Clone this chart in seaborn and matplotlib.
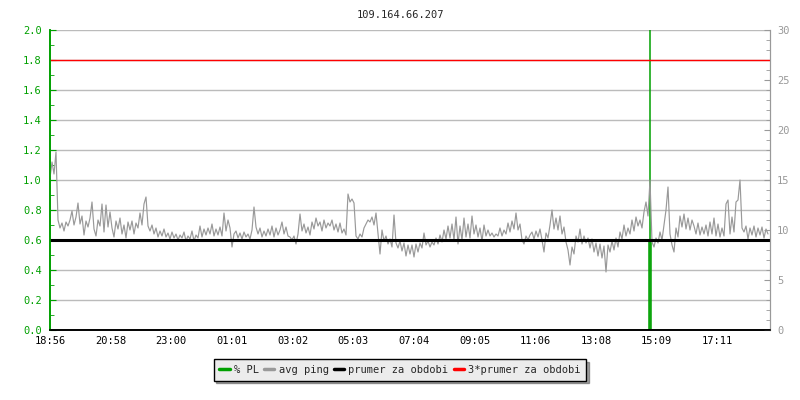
import numpy as np
import pandas as pd
import seaborn as sns
import matplotlib.pyplot as plt
from matplotlib.lines import Line2D

# avg ping (ms), one sample every 4 minutes starting at 18:56
ping_ms = [
    15.2, 16.8, 15.6, 17.8, 11.0, 10.2, 10.7, 9.9, 10.8, 10.4, 11.0, 11.9, 10.5, 11.3, 12.7, 10.6, 11.4, 9.5, 10.9, 10.3,
    11.2, 12.8, 10.1, 9.4, 11.0, 10.4, 12.6, 9.8, 12.5, 10.3, 11.8, 10.2, 9.3, 10.9, 10.1, 11.2, 9.6, 10.5, 9.2, 10.8,
    10.0, 10.9, 9.6, 10.7, 10.2, 11.7, 10.5, 12.6, 13.3, 10.4, 9.9, 10.5, 9.6, 10.2, 9.3, 9.9, 9.4, 10.1, 9.3, 9.7,
    9.1, 9.8, 9.2, 9.6, 9.0, 9.5, 9.2, 9.8, 8.9, 9.4, 9.1, 9.9, 8.9, 9.5, 9.2, 10.4, 9.3, 10.1, 9.5, 10.2,
    9.6, 10.6, 9.4, 10.1, 9.5, 10.3, 9.4, 11.7, 9.9, 11.0, 10.2, 8.3, 9.6, 9.9, 9.2, 9.7, 9.1, 9.8, 9.3, 9.6,
    9.1, 10.0, 12.3, 10.3, 9.6, 10.2, 9.3, 9.9, 9.4, 10.1, 9.5, 10.4, 9.3, 10.2, 9.5, 10.0, 10.8, 9.6, 10.3, 9.4,
    9.3, 9.0, 9.4, 8.6, 9.6, 11.6, 9.9, 10.6, 9.7, 10.3, 9.5, 10.8, 10.1, 11.2, 10.4, 10.8, 9.9, 11.0, 10.2, 10.7,
    10.4, 11.0, 10.0, 10.6, 9.8, 10.7, 9.7, 10.1, 9.5, 13.6, 12.8, 13.1, 12.7, 9.4, 9.1, 9.6, 9.3, 10.2, 10.6, 11.0,
    10.8, 11.3, 10.5, 11.7, 9.6, 7.6, 10.0, 8.9, 9.4, 8.6, 9.1, 8.3, 11.5, 8.7, 8.2, 8.9, 7.9, 8.7, 7.4, 8.5,
    7.6, 8.5, 7.3, 8.6, 7.8, 8.7, 8.2, 9.7, 8.5, 8.9, 8.3, 8.8, 8.5, 9.2, 8.6, 9.5, 8.8, 10.0, 9.1, 10.4,
    9.2, 10.6, 9.0, 11.3, 8.6, 10.4, 9.0, 11.2, 9.3, 10.6, 9.2, 11.4, 9.6, 10.5, 9.3, 10.2, 8.9, 10.5, 9.4, 10.0,
    9.4, 9.7, 9.3, 9.6, 9.4, 10.2, 9.4, 10.0, 9.6, 10.7, 9.8, 10.9, 10.1, 11.7, 10.0, 10.6, 9.0, 8.6, 9.4, 9.0,
    9.5, 9.8, 9.1, 9.9, 9.3, 10.1, 9.0, 7.8, 9.7, 9.2, 10.5, 12.0, 10.1, 11.2, 10.0, 11.4, 9.6, 10.3, 8.8, 8.0,
    6.5, 8.3, 7.6, 9.4, 8.8, 10.1, 8.6, 9.4, 8.7, 9.2, 8.2, 9.1, 7.8, 8.7, 7.4, 8.6, 7.2, 8.4, 5.8, 8.5,
    7.8, 8.9, 8.0, 9.2, 8.3, 9.8, 9.1, 10.5, 9.4, 10.2, 9.6, 11.0, 9.9, 11.3, 10.4, 11.0, 10.2, 11.8, 12.8, 11.4,
    15.0, 8.8, 8.3, 9.2, 8.7, 9.8, 9.0, 10.5, 12.0, 14.3, 9.6, 8.5, 7.8, 10.2, 9.3, 11.4, 10.3, 11.6, 10.1, 11.2,
    10.0, 11.0, 10.4, 9.6, 10.7, 9.5, 10.3, 9.6, 10.5, 9.4, 10.8, 9.6, 11.2, 9.4, 10.6, 9.3, 10.2, 9.4, 12.6, 13.0,
    9.6, 11.3, 9.8, 12.8, 13.0, 15.0, 10.2, 9.8, 10.4, 9.1, 10.2, 9.5, 10.4, 9.3, 10.2, 9.5, 10.3, 9.2, 10.1, 9.6,
]
sample_step_min = 4

# packet loss events (minutes after start, % PL)
pl_minutes = [1198, 1200, 1202]
pl_values = [0.6, 2.0, 0.6]

mean_ping = 9.0
tick_labels = ['18:56', '20:58', '23:00', '01:01', '03:02', '05:03',
               '07:04', '09:05', '11:06', '13:08', '15:09', '17:11']
span_min = 1440
tick_step_min = 1335 / 11

df = pd.DataFrame({'minute': np.arange(len(ping_ms)) * sample_step_min, 'ping': ping_ms})

sns.set_style('white')
plt.rcParams['font.family'] = ['DejaVu Sans Mono']

green = '#00a000'
grey = '#999999'
fs = 7.5

fig = plt.figure(figsize=(8, 4), dpi=100)
ax = fig.add_axes([50 / 800, 70 / 400, 720 / 800, 300 / 400])
ax2 = ax.twinx()

# grid on left scale
ax.set_ylim(0, 2.0)
ax.set_xlim(0, span_min)
ax.set_yticks(np.arange(0, 2.01, 0.2))
ax.set_yticks(np.arange(0, 2.01, 0.1), minor=True)
ax.yaxis.grid(True, color='#bbbbbb', linewidth=1)
ax.set_axisbelow(True)

ax2.set_ylim(0, 30)
ax2.set_yticks(range(0, 31, 5))
ax2.set_yticks(range(0, 31, 1), minor=True)

# packet loss on the left (% PL) scale
ax.vlines(pl_minutes, 0, pl_values, color=green, linewidth=1.1)

sns.lineplot(data=df, x='minute', y='ping', ax=ax2, color=grey, linewidth=0.85, legend=False)
sns.lineplot(x=[0, span_min], y=[mean_ping, mean_ping], ax=ax2, color='black', linewidth=2.2, legend=False)
sns.lineplot(x=[0, span_min], y=[3 * mean_ping, 3 * mean_ping], ax=ax2, color='red', linewidth=1, legend=False)

ax.set_xticks([i * tick_step_min for i in range(len(tick_labels))])
ax.set_xticklabels(tick_labels)
for a in (ax, ax2):
    a.set_xlabel('')
    a.set_ylabel('')

ax.yaxis.set_major_formatter(plt.FormatStrFormatter('%.1f'))
ax.tick_params(axis='y', which='both', direction='in', colors=green, labelsize=fs, pad=6)
ax.tick_params(axis='y', which='major', length=4)
ax.tick_params(axis='y', which='minor', length=3)
ax.tick_params(axis='x', direction='in', length=5, labelsize=fs, colors='black', pad=4)
ax2.tick_params(axis='y', which='both', direction='in', colors=grey, labelsize=fs, pad=5)
ax2.tick_params(axis='y', which='major', length=4)
ax2.tick_params(axis='y', which='minor', length=3)

for a in (ax, ax2):
    a.spines['top'].set_visible(False)
    a.spines['left'].set_color(green)
    a.spines['right'].set_color(grey)
    a.spines['bottom'].set_color('black')
    a.spines['left'].set_linewidth(1.2)
    a.spines['bottom'].set_linewidth(1.2)

fig.suptitle('109.164.66.207', y=0.975, fontsize=fs)

labels = ['% PL', 'avg ping', 'prumer za obdobi', '3*prumer za obdobi']
handles = [Line2D([0], [0], color=c, linewidth=2.5) for c in [green, grey, 'black', 'red']]
leg = fig.legend(handles, labels, loc='center', bbox_to_anchor=(0.5, 0.0755), ncol=4,
                 fontsize=fs, handlelength=1.0, handletextpad=0.4, columnspacing=0.5,
                 frameon=True, fancybox=False, shadow=True, borderpad=0.55)
leg.get_frame().set_facecolor('#ececec')
leg.get_frame().set_edgecolor('black')
leg.get_frame().set_alpha(1)

fig.savefig('out.png', dpi=100)
